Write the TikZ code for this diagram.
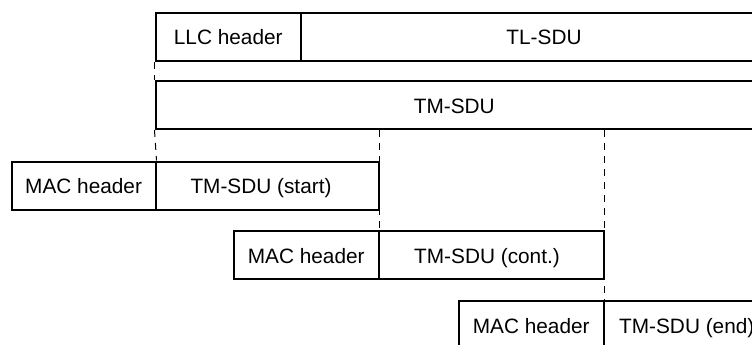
\documentclass[tikz,border=0pt]{standalone}
\usepackage{fontspec}
\setmainfont{Liberation Sans}
\begin{document}
\begin{tikzpicture}[x=1pt,y=-1pt,
  pdu/.style={draw, line width=2pt, rectangle, inner sep=0pt, minimum height=48pt,
    font=\fontsize{20.8}{24}\selectfont, text height=18pt, text depth=2pt},
  dashline/.style={line width=1pt, dash pattern=on 7pt off 6pt}]
\useasboundingbox (0,0) rectangle (752,345);
\fill[white] (0,0) rectangle (752,345);
\clip (0,0) rectangle (752,345);
% row 1
\node[pdu, minimum width=145.5pt] (llc) at (228.25,37) {LLC header};
\node[pdu, minimum width=486pt] (tlsdu) at (544,37) {TL-SDU};
% row 2
\node[pdu, minimum width=597.5pt] (tmsdu) at (454.25,105) {TM-SDU};
% row 3
\node[pdu, minimum width=143.8pt] (mac1) at (83.6,185.5) {MAC header};
\node[pdu, minimum width=223pt] (start) at (267,185.5) {TM-SDU (start)\hspace*{12pt}};
% row 4
\node[pdu, minimum width=144.5pt] (mac2) at (306.25,255) {MAC header};
\node[pdu, minimum width=225pt] (cont) at (491,255) {TM-SDU (cont.)\hspace*{8pt}};
% row 5
\node[pdu, minimum width=144.5pt] (mac3) at (531.25,325) {MAC header};
\node[pdu, minimum width=166.5pt] (endsdu) at (686.75,325) {TM-SDU (end)};
% dashed guides
\draw[dashline] (llc.south west) -- (tmsdu.north west);
\draw[dashline] (tmsdu.south west) -- (mac1.north east);
\draw[dashline] (tmsdu.south -| mac2.north east) -- (mac2.north east);
\draw[dashline] (tmsdu.south -| mac3.north east) -- (mac3.north east);
\end{tikzpicture}
\end{document}
